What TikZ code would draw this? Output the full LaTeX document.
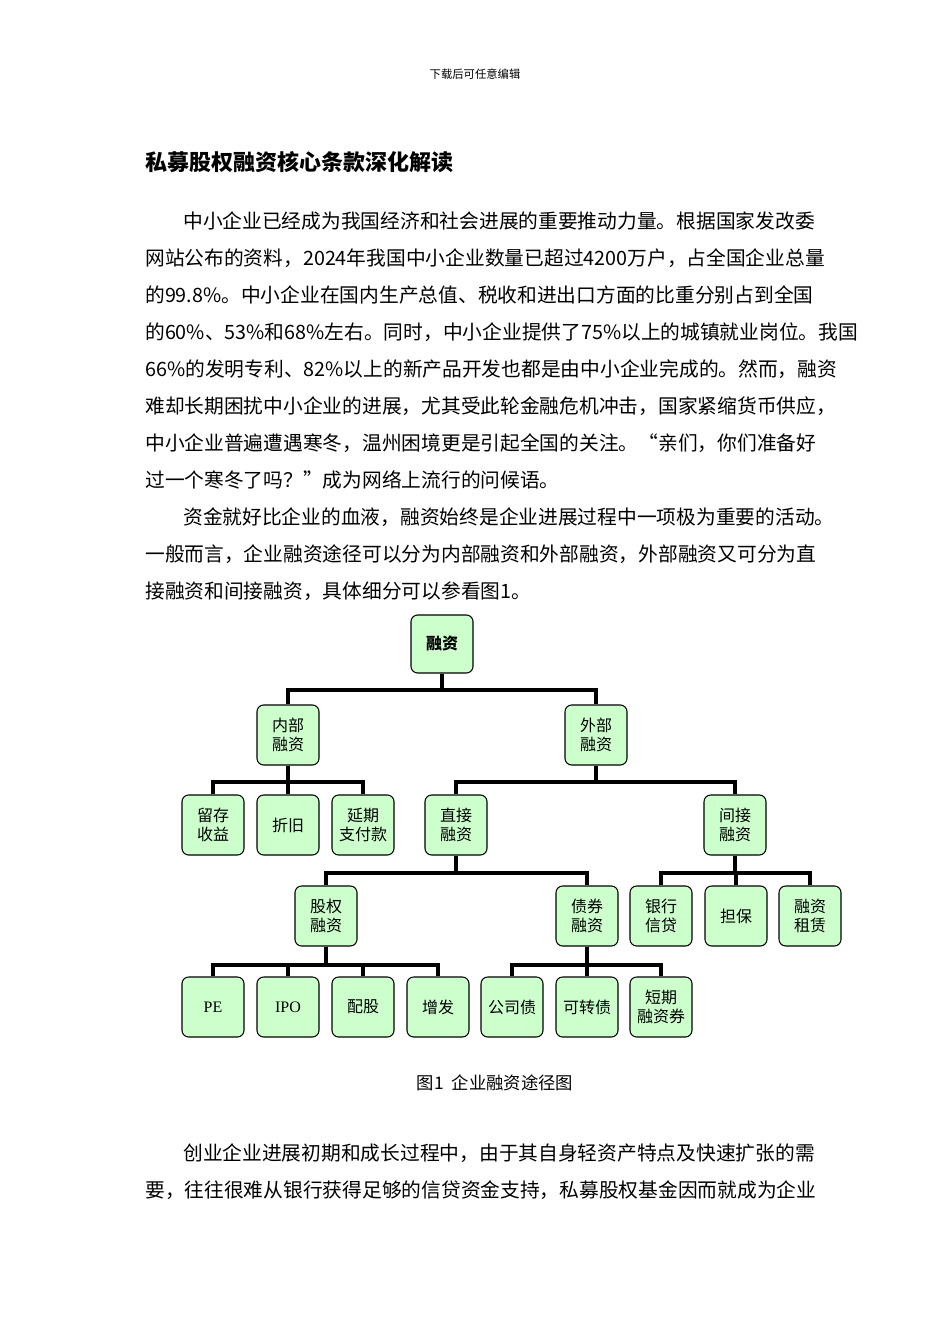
\documentclass[tikz,border=0pt]{standalone}
\usepackage{fontspec}
\setmainfont{Noto Sans CJK SC}
\newfontfamily\serifl{Liberation Serif}
\begin{document}
\begin{tikzpicture}[x=0.75pt,y=-0.75pt,
  box/.style={draw,thick,fill=green!20,rounded corners=5pt,minimum width=46.5pt,minimum height=45pt,align=center,font=\fontsize{12}{14.5}\selectfont,inner sep=1pt},
  ln/.style={line width=2.6pt},
  body/.style={anchor=west,inner sep=0pt,font=\fontsize{14.8}{17}\selectfont}]
\useasboundingbox[fill=white] (0,0) rectangle (950,1344);
\node[font=\fontsize{8.5}{10}\selectfont] (hd) at (475,74) {下载后可任意编辑};
\node[anchor=west,inner sep=0pt,font=\fontsize{16.5}{19}\bfseries\selectfont] (tt) at (145,162) {私募股权融资核心条款深化解读};
\node[body] (l1) at (183,221) {中小企业已经成为我国经济和社会进展的重要推动力量。根据国家发改委};
\node[body] (l2) at (145,258) {网站公布的资料，2024年我国中小企业数量已超过4200万户，占全国企业总量};
\node[body] (l3) at (145,295) {的99.8\%。中小企业在国内生产总值、税收和进出口方面的比重分别占到全国};
\node[body] (l4) at (145,332) {的60\%、53\%和68\%左右。同时，中小企业提供了75\%以上的城镇就业岗位。我国};
\node[body] (l5) at (145,369) {66\%的发明专利、82\%以上的新产品开发也都是由中小企业完成的。然而，融资};
\node[body] (l6) at (145,406) {难却长期困扰中小企业的进展，尤其受此轮金融危机冲击，国家紧缩货币供应，};
\node[body] (l7) at (145,443) {中小企业普遍遭遇寒冬，温州困境更是引起全国的关注。“亲们，你们准备好};
\node[body] (l8) at (145,480) {过一个寒冬了吗？”成为网络上流行的问候语。};
\node[body] (l9) at (183,517) {资金就好比企业的血液，融资始终是企业进展过程中一项极为重要的活动。};
\node[body] (l10) at (145,554) {一般而言，企业融资途径可以分为内部融资和外部融资，外部融资又可分为直};
\node[body] (l11) at (145,591) {接融资和间接融资，具体细分可以参看图1。};
% tree
\node[box,minimum height=43.5pt,font=\fontsize{12}{14.5}\bfseries\selectfont] (r) at (442,644) {融资};
\node[box] (nb) at (288,735) {内部\\融资};
\node[box] (wb) at (596,735) {外部\\融资};
\node[box] (a1) at (213,825) {留存\\收益};
\node[box] (a2) at (288,825) {折旧};
\node[box] (a3) at (363,825) {延期\\支付款};
\node[box] (zj) at (456,825) {直接\\融资};
\node[box] (jj) at (735,825) {间接\\融资};
\node[box] (gq) at (326,916) {股权\\融资};
\node[box] (zq) at (587,916) {债券\\融资};
\node[box] (b1) at (661,916) {银行\\信贷};
\node[box] (b2) at (736,916) {担保};
\node[box] (b3) at (810,916) {融资\\租赁};
\node[box] (c1) at (213,1007) {\serifl PE};
\node[box] (c2) at (288,1007) {\serifl IPO};
\node[box] (c3) at (363,1007) {配股};
\node[box] (c4) at (438,1007) {增发};
\node[box] (d1) at (512,1007) {公司债};
\node[box] (d2) at (587,1007) {可转债};
\node[box] (d3) at (661,1007) {短期\\融资券};
\coordinate (y1) at (0,690);
\coordinate (y2) at (0,782);
\coordinate (y3) at (0,873);
\coordinate (y4) at (0,965);
\foreach \p/\c/\y in {r/nb/y1,r/wb/y1,nb/a1/y2,nb/a2/y2,nb/a3/y2,wb/zj/y2,wb/jj/y2,zj/gq/y3,zj/zq/y3,jj/b1/y3,jj/b2/y3,jj/b3/y3,gq/c1/y4,gq/c2/y4,gq/c3/y4,gq/c4/y4,zq/d1/y4,zq/d2/y4,zq/d3/y4}
  \draw[ln] (\p.south) -- (\p.south |- \y) -| (\c.north);
\node[font=\fontsize{13}{15}\selectfont] (cap) at (495,1083) {图1\ \ 企业融资途径图};
\node[body] (m1) at (183,1153) {创业企业进展初期和成长过程中，由于其自身轻资产特点及快速扩张的需};
\node[body] (m2) at (145,1190) {要，往往很难从银行获得足够的信贷资金支持，私募股权基金因而就成为企业};
\end{tikzpicture}
\end{document}
